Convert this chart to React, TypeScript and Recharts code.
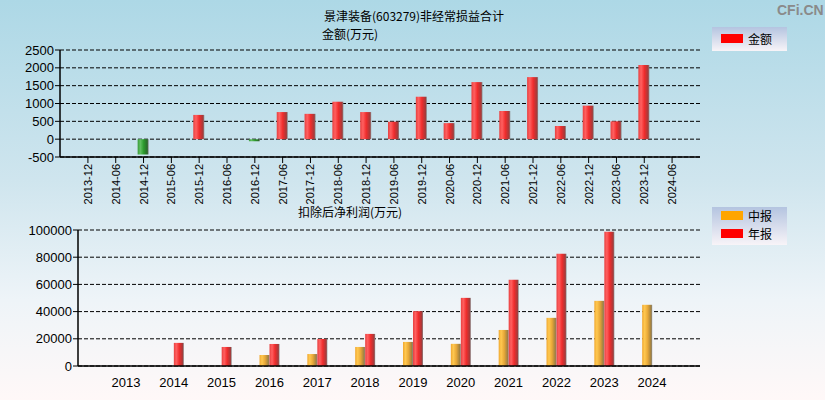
import React from 'react';
import {
  Bar,
  BarChart,
  CartesianGrid,
  Cell,
  XAxis,
  YAxis,
} from 'recharts';

// 非经常损益合计 (万元), half-year periods
const periods = [
  '2013-12', '2014-06', '2014-12', '2015-06', '2015-12', '2016-06',
  '2016-12', '2017-06', '2017-12', '2018-06', '2018-12', '2019-06',
  '2019-12', '2020-06', '2020-12', '2021-06', '2021-12', '2022-06',
  '2022-12', '2023-06', '2023-12', '2024-06',
];
const amounts = [
  0, 0, -430, 0, 680, 0, -60, 760, 710, 1050, 760, 490,
  1190, 450, 1600, 790, 1740, 370, 940, 500, 2080, 0,
];
const topTicks = [-500, 0, 500, 1000, 1500, 2000, 2500];

// 扣除后净利润 (万元)
const years = [
  '2013', '2014', '2015', '2016', '2017', '2018',
  '2019', '2020', '2021', '2022', '2023', '2024',
];
const midYear = [
  null, null, null, 8100, 8800, 14000, 17700, 16300, 26500, 35400, 47900, 45000,
];
const annual = [
  null, 17000, 14000, 16200, 19900, 23600, 40300, 50100, 63400, 82500, 98700, null,
];
const bottomTicks = [0, 20000, 40000, 60000, 80000, 100000];

const topData = periods.map((p, i) => ({ period: p, amount: amounts[i] }));
const bottomData = years.map((y, i) => ({
  year: y,
  mid: midYear[i],
  annual: annual[i],
}));

const numFont = '"Liberation Sans", Arial, sans-serif';
const cjkFont = '"Noto Sans CJK SC", "Liberation Sans", sans-serif';

function RotatedTick(props: any) {
  const { x, y, payload } = props;
  return (
    <g transform={`translate(${x + 4},${y - 1}) rotate(-90)`}>
      <text textAnchor='end' fontSize={11} fontFamily={numFont} fill='#000'>
        {payload.value}
      </text>
    </g>
  );
}

function Gradients() {
  return (
    <defs>
      <linearGradient id='gRed' x1='0' y1='0' x2='1' y2='0'>
        <stop offset='0%' stopColor='#e84040' />
        <stop offset='25%' stopColor='#ff6060' />
        <stop offset='55%' stopColor='#f02c2c' />
        <stop offset='88%' stopColor='#a53a3a' />
        <stop offset='100%' stopColor='#8a8a8a' />
      </linearGradient>
      <linearGradient id='gGreen' x1='0' y1='0' x2='1' y2='0'>
        <stop offset='0%' stopColor='#3a9a3a' />
        <stop offset='25%' stopColor='#60c060' />
        <stop offset='55%' stopColor='#2c9a2c' />
        <stop offset='88%' stopColor='#2a6a2a' />
        <stop offset='100%' stopColor='#8a8a8a' />
      </linearGradient>
      <linearGradient id='gOrange' x1='0' y1='0' x2='1' y2='0'>
        <stop offset='0%' stopColor='#f0a830' />
        <stop offset='25%' stopColor='#ffc850' />
        <stop offset='55%' stopColor='#e8a838' />
        <stop offset='88%' stopColor='#a08040' />
        <stop offset='100%' stopColor='#8a8a8a' />
      </linearGradient>
    </defs>
  );
}

const legendBox: React.CSSProperties = {
  position: 'absolute',
  left: 712,
  width: 75,
  background: 'linear-gradient(to bottom, #b4c4e0, #f8f4f8)',
};

const textLine: React.CSSProperties = {
  position: 'absolute',
  fontSize: 12,
  lineHeight: '12px',
  fontFamily: cjkFont,
  color: '#000',
  whiteSpace: 'nowrap',
};

function LegendItem({ top, color, label }: { top: number; color: string; label: string }) {
  return (
    <>
      <div style={{ position: 'absolute', left: 9, top, width: 22, height: 9, background: color }} />
      <div style={{ ...textLine, left: 36, top: top - 1 }}>{label}</div>
    </>
  );
}

export default function App() {
  return (
    <div
      style={{
        position: 'absolute',
        left: 0,
        top: 0,
        width: 825,
        height: 400,
        overflow: 'hidden',
        background: 'linear-gradient(to bottom, #add8e6 0%, #cfe5ee 45%, #eef4f8 75%, #fff8f8 100%)',
      }}
    >
      <div
        style={{
          position: 'absolute',
          left: 777,
          top: 2,
          fontSize: 14,
          fontWeight: 'bold',
          fontFamily: numFont,
          color: '#8a8a8a',
        }}
      >
        CFi.CN
      </div>

      <div style={{ ...textLine, left: 324, top: 10 }}>景津装备(603279)非经常损益合计</div>
      <div style={{ ...textLine, left: 322, top: 28 }}>金额(万元)</div>

      <div style={{ ...legendBox, top: 27, height: 24 }}>
        <LegendItem top={7} color='#ff0000' label='金额' />
      </div>

      <div style={{ position: 'absolute', left: 0, top: 0 }}>
        <BarChart
          width={825}
          height={210}
          data={topData}
          margin={{ top: 50, right: 125, bottom: 0, left: 0 }}
        >
          <Gradients />
          <CartesianGrid
            vertical={false}
            stroke='#000'
            strokeDasharray='4 2'
          />
          <XAxis
            dataKey='period'
            interval={0}
            height={53}
            padding={{ left: 14, right: 14 }}
            axisLine={{ stroke: '#000', strokeWidth: 1.5 }}
            tickLine={{ stroke: '#000' }}
            tickSize={6}
            tick={<RotatedTick />}
          />
          <YAxis
            width={60}
            domain={[-500, 2500]}
            ticks={topTicks}
            interval={0}
            axisLine={{ stroke: '#000', strokeWidth: 1.5 }}
            tickLine={{ stroke: '#000' }}
            tickSize={5}
            tickMargin={1}
            tick={{ fontSize: 13, fontFamily: numFont, fill: '#000' }}
          />
          <Bar dataKey='amount' barSize={11} isAnimationActive={false}>
            {topData.map((d, i) => (
              <Cell key={i} fill={d.amount < 0 ? 'url(#gGreen)' : 'url(#gRed)'} />
            ))}
          </Bar>
        </BarChart>
      </div>

      <div style={{ ...textLine, left: 298, top: 206 }}>扣除后净利润(万元)</div>

      <div style={{ ...legendBox, top: 207, height: 38 }}>
        <LegendItem top={4} color='#ffa500' label='中报' />
        <LegendItem top={22} color='#ff0000' label='年报' />
      </div>

      <div style={{ position: 'absolute', left: 0, top: 200 }}>
        <BarChart
          width={825}
          height={191}
          data={bottomData}
          barGap={0}
          margin={{ top: 30, right: 125, bottom: 0, left: 0 }}
        >
          <Gradients />
          <CartesianGrid
            vertical={false}
            stroke='#000'
            strokeDasharray='4 2'
          />
          <XAxis
            dataKey='year'
            interval={0}
            height={25}
            padding={{ left: 24, right: 24 }}
            axisLine={{ stroke: '#000', strokeWidth: 1.5 }}
            tickLine={false}
            tickMargin={6}
            tick={{ fontSize: 13, fontFamily: numFont, fill: '#000' }}
          />
          <YAxis
            width={78}
            domain={[0, 100000]}
            ticks={bottomTicks}
            interval={0}
            axisLine={{ stroke: '#000', strokeWidth: 1.5 }}
            tickLine={{ stroke: '#000' }}
            tickSize={5}
            tickMargin={1}
            tick={{ fontSize: 13, fontFamily: numFont, fill: '#000' }}
          />
          <Bar dataKey='mid' barSize={10} fill='url(#gOrange)' isAnimationActive={false} />
          <Bar dataKey='annual' barSize={10} fill='url(#gRed)' isAnimationActive={false} />
        </BarChart>
      </div>
    </div>
  );
}
